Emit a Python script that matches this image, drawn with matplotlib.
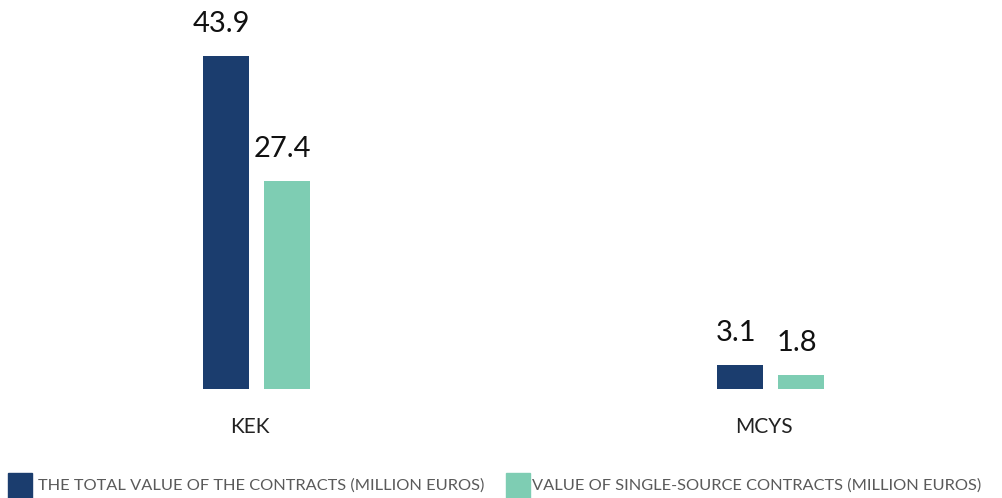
import matplotlib.pyplot as plt
from matplotlib.patches import Rectangle

# data
categories = ['KEK', 'MCYS']
total_values = [43.9, 3.1]
single_source = [27.4, 1.8]
series_names = ['THE TOTAL VALUE OF THE CONTRACTS (MILLION EUROS)',
                'VALUE OF SINGLE-SOURCE CONTRACTS (MILLION EUROS)']
colors = ['#1b3d6e', '#7ecdb3']

plt.rcParams['font.family'] = ['Lato', 'DejaVu Sans']

fig = plt.figure(figsize=(10.02, 4.98), dpi=100)
ax = fig.add_axes([0, 0.219, 1, 0.781])

x = list(range(len(categories)))
w = 0.0895
off = 0.0593
b1 = ax.bar([i - off for i in x], total_values, width=w, color=colors[0])
b2 = ax.bar([i + off for i in x], single_source, width=w, color=colors[1])

for bars, vals in ((b1, total_values), (b2, single_source)):
    for rect, v in zip(bars, vals):
        ax.annotate(f'{v:.1f}', (rect.get_x() + rect.get_width() / 2 - 0.008, v),
                    xytext=(0, 14), textcoords='offset points',
                    ha='center', va='bottom', fontsize=21, color='#111111')

ax.set_xlim(-256.5 / 514, (1002 - 256.5) / 514)
ax.set_ylim(0, 51.3)
ax.set_xticks([i - 0.012 for i in x])
ax.set_xticklabels(categories, fontsize=15, color='#222222')
ax.tick_params(axis='x', length=0, pad=20)
ax.set_yticks([])
for s in ax.spines.values():
    s.set_visible(False)

# legend drawn by hand at the bottom
leg = [(8 / 1002, 38 / 1002), (506 / 1002, 532 / 1002)]
for (px, tx), name, c in zip(leg, series_names, colors):
    fig.patches.append(Rectangle((px, 0), 24 / 1002, 25 / 498, color=c,
                                 transform=fig.transFigure, figure=fig))
    fig.text(tx, 12 / 498, name, fontsize=11.8, color='#5a5a5a', va='center')

fig.savefig('out.png', dpi=100)
